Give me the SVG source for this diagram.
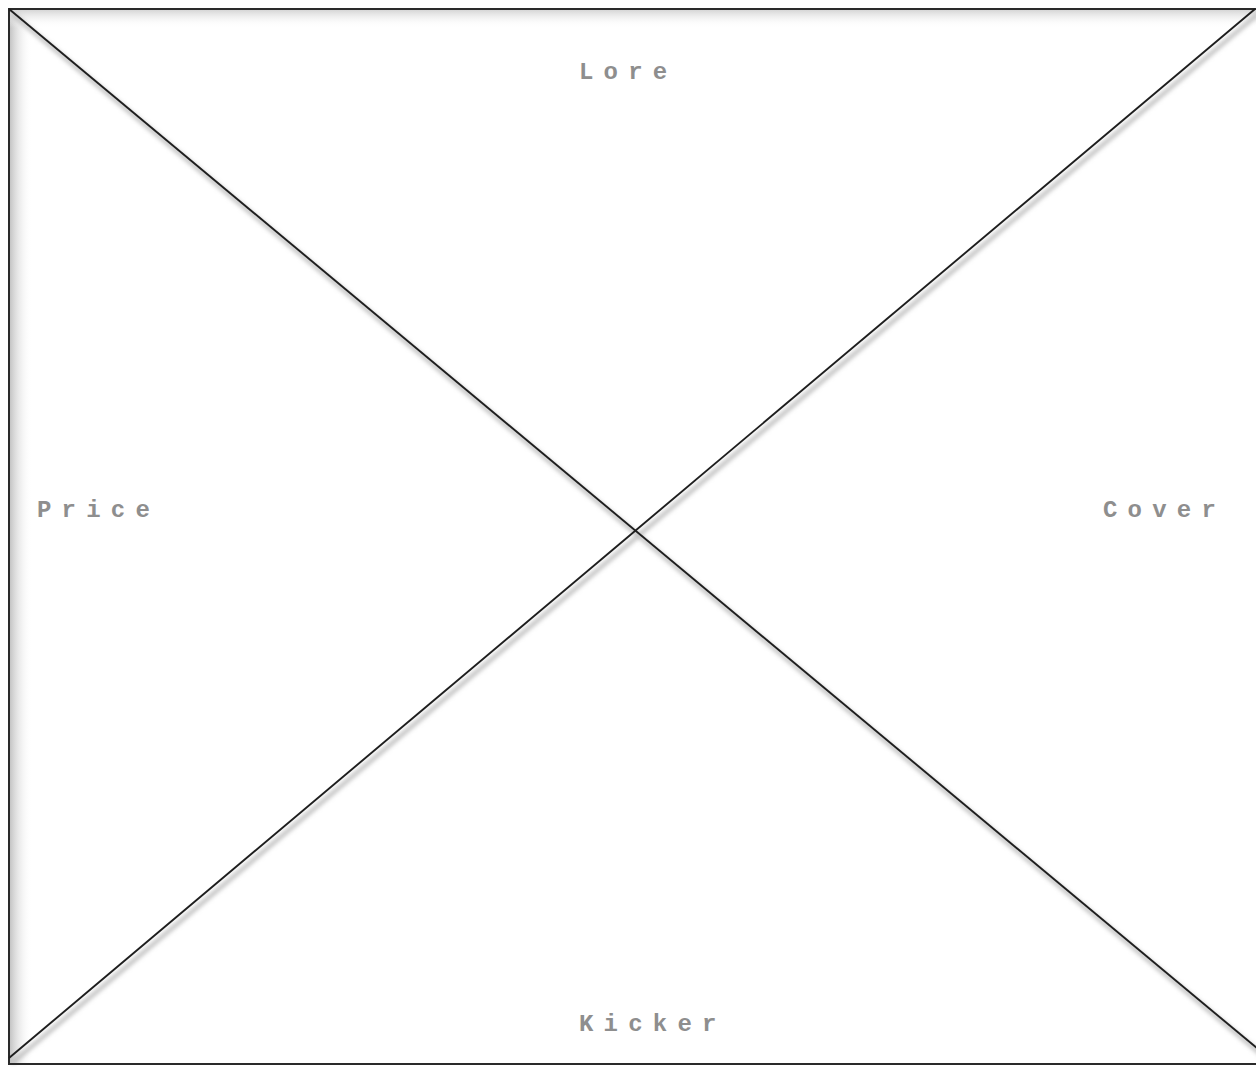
<svg xmlns="http://www.w3.org/2000/svg" width="1256" height="1067" viewBox="0 0 1256 1067">
  <defs>
    <linearGradient id="gl" x1="0" y1="0" x2="1" y2="0">
      <stop offset="0" stop-color="#c4c4c4"/>
      <stop offset="1" stop-color="#ffffff" stop-opacity="0"/>
    </linearGradient>
    <linearGradient id="gt" x1="0" y1="0" x2="0" y2="1">
      <stop offset="0" stop-color="#d6d6d6"/>
      <stop offset="1" stop-color="#ffffff" stop-opacity="0"/>
    </linearGradient>
    <filter id="blur" x="-5%" y="-5%" width="110%" height="110%">
      <feGaussianBlur stdDeviation="2"/>
    </filter>
    <style>
      .lbl { font-family: "Liberation Mono", "Courier New", monospace; font-size: 24px; font-weight: bold; fill: #8e8e8e; letter-spacing: 10.2px; }
      .diag { stroke: #1e1e1e; stroke-width: 1.9; fill: none; }
      .shadow { stroke: #bdbdbd; stroke-width: 4; fill: none; filter: url(#blur); }
    </style>
  </defs>
  <rect x="0" y="0" width="1256" height="1067" fill="#ffffff"/>
  <g id="frame">
    <rect x="10" y="10" width="22" height="1054" fill="url(#gl)"/>
    <rect x="10" y="10" width="1260" height="18" fill="url(#gt)"/>
    <g id="shadows">
      <line class="shadow" x1="12" y1="14" x2="1279" y2="1069"/>
      <line class="shadow" x1="12" y1="1063" x2="1258" y2="14"/>
    </g>
    <rect x="9" y="9" width="1300" height="1055" fill="none" stroke="#2a2a2a" stroke-width="2"/>
  </g>
  <g id="connectors">
    <line class="diag" x1="9" y1="9" x2="1276" y2="1064"/>
    <line class="diag" x1="9" y1="1058" x2="1255" y2="9"/>
  </g>
  <g id="lore"><text class="lbl" x="579" y="79">Lore</text></g>
  <g id="price"><text class="lbl" x="37" y="517">Price</text></g>
  <g id="cover"><text class="lbl" x="1103" y="517">Cover</text></g>
  <g id="kicker"><text class="lbl" x="579" y="1031">Kicker</text></g>
</svg>
